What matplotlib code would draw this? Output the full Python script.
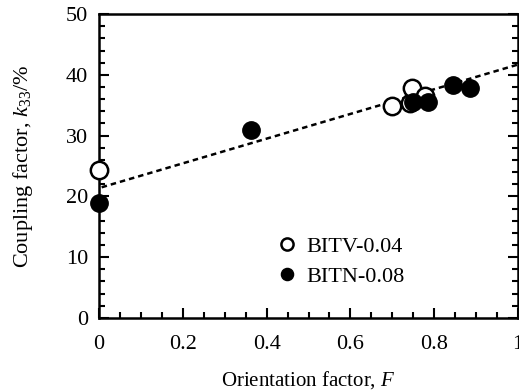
import matplotlib
matplotlib.use('Agg')
import matplotlib.pyplot as plt
from matplotlib.ticker import MultipleLocator

plt.rcParams['font.family'] = ['Liberation Serif', 'DejaVu Serif']
plt.rcParams['mathtext.fontset'] = 'custom'
plt.rcParams['mathtext.rm'] = 'Liberation Serif'
plt.rcParams['mathtext.it'] = 'Liberation Serif:italic'

# BITV-0.04 (open circles)
bitv_F = [0.0, 0.70, 0.742, 0.748, 0.778]
bitv_k = [24.3, 34.8, 35.3, 37.8, 36.6]
# BITN-0.08 (filled circles)
bitn_F = [0.0, 0.362, 0.75, 0.786, 0.846, 0.885]
bitn_k = [18.9, 30.9, 35.6, 35.6, 38.4, 37.9]
# fitted line
fit_F = [0.006, 1.0]
fit_k = [21.5, 41.7]

fig = plt.figure(figsize=(5.19, 3.92), dpi=100)
ax = fig.add_axes([0.191, 0.189, 0.807, 0.775])

ax.plot(fit_F, fit_k, color='black', linestyle=(0, (2.2, 1.6)), linewidth=1.8, zorder=2)
ax.plot(bitv_F, bitv_k, 'o', markersize=12.5, markerfacecolor='white', markeredgecolor='black',
        markeredgewidth=1.8, clip_on=False, zorder=3, label='BITV-0.04')
ax.plot(bitn_F, bitn_k, 'o', markersize=12.5, markerfacecolor='black', markeredgecolor='black',
        clip_on=False, zorder=4, label='BITN-0.08')

ax.set_xlim(0, 1)
ax.set_ylim(0, 50)
ax.xaxis.set_minor_locator(MultipleLocator(0.05))
ax.yaxis.set_major_locator(MultipleLocator(10))
ax.yaxis.set_minor_locator(MultipleLocator(2))
ax.set_xticks([0, 0.2, 0.4, 0.6, 0.8, 1.0])
ax.set_xticklabels(['0', '0.2', '0.4', '0.6', '0.8', '1'])
ax.tick_params(which='both', direction='in', bottom=True, left=True, right=True, top=False,
               labelsize=16, width=1.5)
ax.tick_params(which='major', length=7)
ax.tick_params(axis='x', which='major', pad=12)
ax.tick_params(axis='y', which='major', pad=8)
ax.tick_params(which='minor', length=4)
for s in ax.spines.values():
    s.set_linewidth(1.8)

ax.set_xlabel('Orientation factor, $F$', fontsize=15, labelpad=11)
ax.set_ylabel('Coupling factor, $k_{33}$/%', fontsize=16, labelpad=22)

leg = ax.legend(loc='upper left', bbox_to_anchor=(0.375, 0.335), frameon=False, fontsize=16,
                markerscale=0.7, handlelength=1.0, handletextpad=0.35, labelspacing=0.45)

fig.savefig('out.png', dpi=100)
